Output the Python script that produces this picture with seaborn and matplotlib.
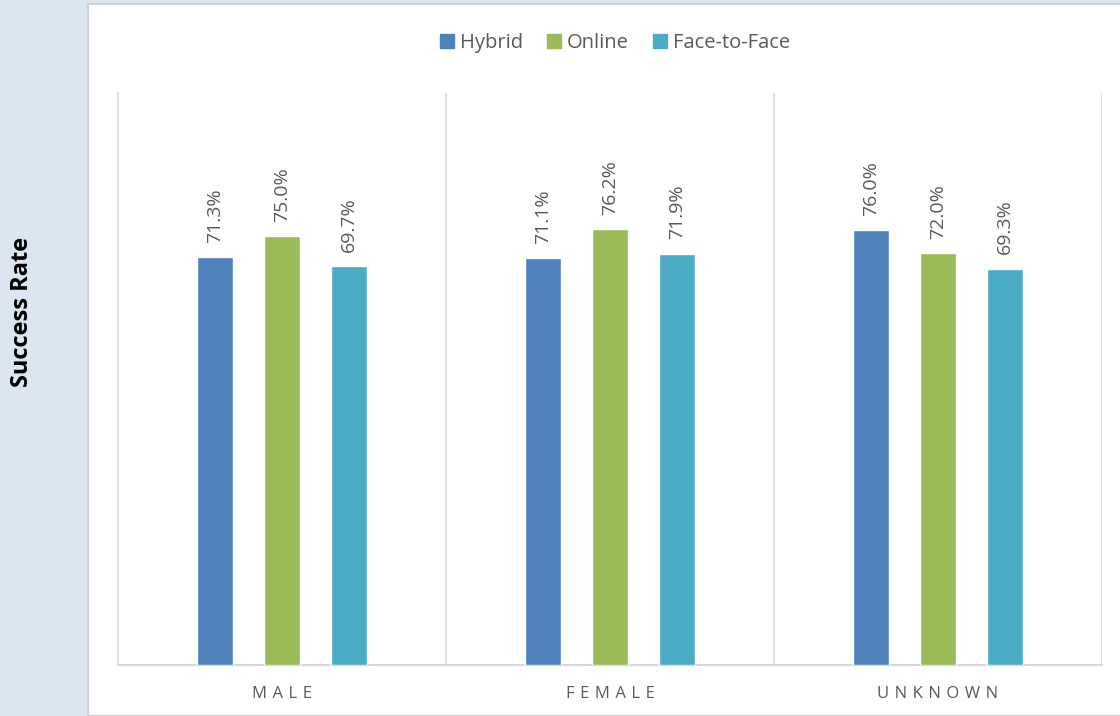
import matplotlib
matplotlib.use("Agg")
import matplotlib.pyplot as plt
import matplotlib.patches as mpatches
import seaborn as sns
import pandas as pd

# Dados
groups = ['MALE', 'FEMALE', 'UNKNOWN']
modes = ['Hybrid', 'Online', 'Face-to-Face']
hybrid = [0.713, 0.711, 0.760]
online = [0.750, 0.762, 0.720]
face_to_face = [0.697, 0.719, 0.693]
colors = ['#4F81BD', '#9BBB59', '#4BACC6']

df = pd.DataFrame({
    'group': groups * 3,
    'mode': [m for m in modes for _ in groups],
    'rate': hybrid + online + face_to_face,
})

sns.set_theme(style='white')
plt.rcParams['font.family'] = ['Open Sans', 'DejaVu Sans']
grey = '#595959'

fig = plt.figure(figsize=(11.2, 7.16), dpi=100)
fig.patch.set_facecolor('#DCE6F1')
panel = mpatches.Rectangle((88 / 1120, 0), 1 - 88 / 1120 + 0.01, 1 - 4 / 716,
                           transform=fig.transFigure, facecolor='white',
                           edgecolor='#D0D0D0', linewidth=1.5, zorder=-5)
fig.patches.append(panel)

ax = fig.add_axes([118 / 1120, 1 - 665 / 716, (1102 - 118) / 1120, (665 - 93) / 716])
ax.set_facecolor('none')
sns.barplot(data=df, x='group', y='rate', hue='mode', hue_order=modes,
            palette=colors, width=0.615, gap=0.46, ax=ax, legend=False,
            saturation=1, zorder=3)

ax.set_xlim(-0.5, 2.5)
ax.set_ylim(0, 1.0)
ax.set_yticks([])
ax.set_xlabel('')
ax.set_ylabel('')

# separadores verticais
for xv in [0.5, 1.5, 2.5]:
    ax.axvline(xv, color='#D9D9D9', lw=1.2, zorder=1)
for side in ['top', 'right']:
    ax.spines[side].set_visible(False)
ax.spines['left'].set_color('#D9D9D9')
ax.spines['bottom'].set_color('#D9D9D9')
ax.spines['left'].set_linewidth(1.2)
ax.spines['bottom'].set_linewidth(1.5)

ax.set_xticks(range(len(groups)))
ax.set_xticklabels(['\u2009\u2009'.join(g) for g in groups],
                   fontsize=12, color=grey)
ax.tick_params(axis='x', length=0, pad=15)

# rótulos dos valores
for cont in ax.containers:
    for bar in cont:
        h = bar.get_height()
        ax.text(bar.get_x() + bar.get_width() / 2, h + 0.025, f'{h * 100:.1f}%',
                rotation=90, ha='center', va='bottom', fontsize=14, color=grey)

handles = [mpatches.Patch(color=c, label=m) for c, m in zip(colors, modes)]
fig.legend(handles=handles, loc='center', bbox_to_anchor=(615 / 1120, 1 - 43 / 716),
           ncol=3, frameon=False, fontsize=14.5, handlelength=0.7, handleheight=0.7,
           handletextpad=0.3, columnspacing=1.2, labelcolor=grey)

fig.text(22 / 1120, 1 - 312 / 716, 'Success Rate', rotation=90, ha='center',
         va='center', fontsize=17, fontweight='bold', color='black')

fig.savefig('out.png', dpi=100)
